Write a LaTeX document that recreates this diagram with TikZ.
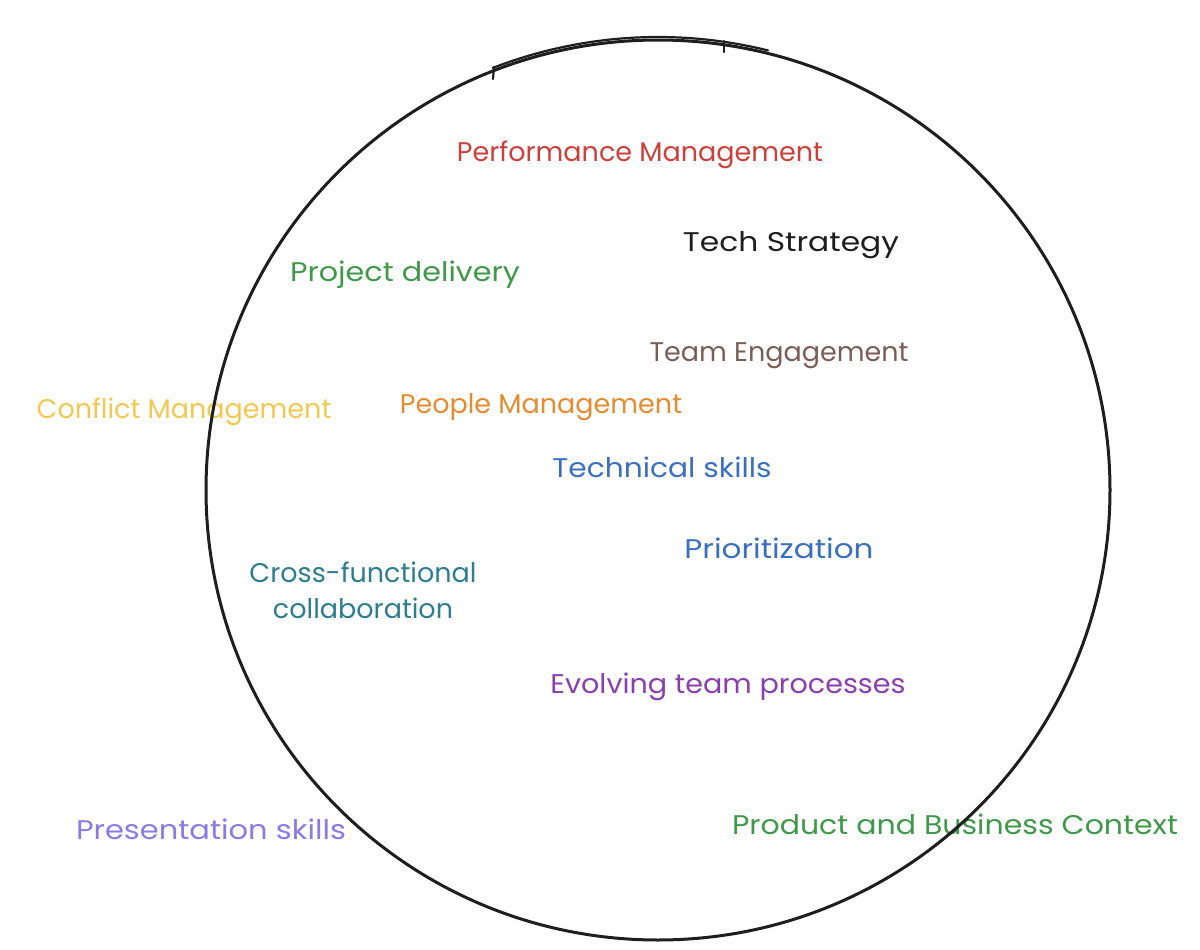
\documentclass[tikz,border=0pt]{standalone}
\usepackage{fontspec}
\setmainfont{Poppins}
\definecolor{cRed}{HTML}{CC3F3A}
\definecolor{cGreen}{HTML}{40984A}
\definecolor{cBrown}{HTML}{7A5E56}
\definecolor{cYellow}{HTML}{F2C850}
\definecolor{cOrange}{HTML}{E58C30}
\definecolor{cBlue}{HTML}{3B6FBF}
\definecolor{cTeal}{HTML}{2E7D90}
\definecolor{cPurple}{HTML}{8B3EAE}
\definecolor{cLav}{HTML}{8A7BE6}
\definecolor{cInk}{HTML}{1E1E1E}
\newcommand\hsx[2]{\scalebox{#1}[1]{#2}}
\begin{document}
\begin{tikzpicture}[x=1pt,y=-1pt,
  lbl/.style={font=\fontsize{27}{32}\selectfont, inner sep=0pt, align=center},
  ring/.style={draw=cInk, line width=3pt, line cap=round}]
\useasboundingbox (0,0) rectangle (1200,950);
\coordinate (c) at (658,490);
% labels
\node[lbl, text=cRed]    (perf)  at (640,155) {Performance Management};
\node[lbl, text=cInk]    (tech)  at (791,245) {\hsx{1.16}{Tech Strategy}};
\node[lbl, text=cGreen]  (proj)  at (405,275) {\hsx{1.12}{Project delivery}};
\node[lbl, text=cBrown]  (team)  at (779,356) {Team Engagement};
\node[lbl, text=cYellow] (conf)  at (184,412) {Conflict Management};
\node[lbl, text=cOrange] (peop)  at (541,407) {People Management};
\node[lbl, text=cBlue]   (techs) at (662,467) {\hsx{1.1}{Technical skills}};
\node[lbl, text=cBlue]   (prio)  at (779,548) {\hsx{1.15}{Prioritization}};
\node[lbl, text=cTeal, font=\fontsize{27}{36}\selectfont] (cross) at (363,590) {Cross-functional\\collaboration};
\node[lbl, text=cPurple] (evol)  at (728,687) {\hsx{1.06}{Evolving team processes}};
\node[lbl, text=cLav]    (pres)  at (211,829) {\hsx{1.13}{Presentation skills}};
\node[lbl, text=cGreen]  (prod)  at (955,824) {\hsx{1.11}{Product and Business Context}};
% hand-drawn circle
\draw[ring] (c) ellipse[x radius=452, y radius=450];
\draw[ring, line width=2.2pt] (c) ++(248.7:455 and 453) arc[start angle=248.7, end angle=284, x radius=455, y radius=453];
\draw[ring, line width=2.2pt] (494,67) -- (493,79);
\draw[ring, line width=2.2pt] (724,41) -- (724,52);
\end{tikzpicture}
\end{document}
